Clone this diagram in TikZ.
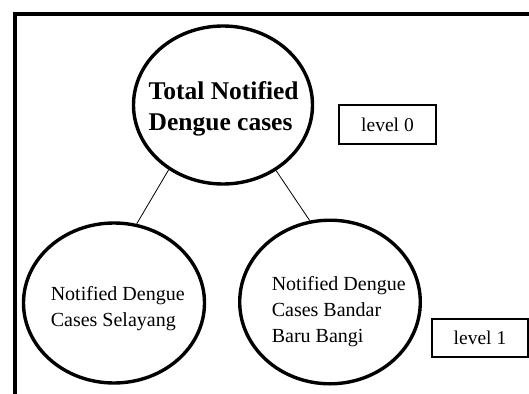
\documentclass[tikz,border=0pt]{standalone}
\usepackage{fontspec}
\setmainfont{Liberation Serif}
\usetikzlibrary{shapes.geometric}
\tikzset{
  bubble/.style={ellipse, draw, line width=3.4pt, inner sep=0pt},
  bubbletext/.style={align=left, inner sep=0pt, anchor=west},
  levelbox/.style={draw, line width=1.3pt, inner sep=0pt, font=\fontsize{19.5}{23}\selectfont},
  link/.style={line width=0.8pt}
}
\begin{document}
\begin{tikzpicture}[x=1pt,y=-1pt]
\useasboundingbox (0,0) rectangle (529,393);
% frame
\draw[line width=4pt] (15,395) -- (15,14) -- (531,14);
% ellipses
\node[bubble, minimum width=179pt, minimum height=158pt] (top) at (223,105) {};
\node[bubble, minimum width=181pt, minimum height=160pt] (left) at (114,303) {};
\node[bubble, minimum width=180.6pt, minimum height=163.6pt] (right) at (330,302) {};
% texts
\node[bubbletext, font=\bfseries\fontsize{25.5}{30.5}\selectfont] (toptext) at (148.5,108.7) {Total Notified\\Dengue cases};
\node[bubbletext, font=\fontsize{20}{26.6}\selectfont] (lefttext) at (50.6,308.6) {Notified Dengue\\Cases Selayang};
\node[bubbletext, font=\fontsize{20}{26.25}\selectfont] (righttext) at (271.6,311.5) {Notified Dengue\\Cases Bandar\\Baru Bangi};
% level boxes
\node[levelbox, minimum width=97pt, minimum height=39pt] (lv0) at (387.5,124.5) {level 0};
\node[levelbox, minimum width=96pt, minimum height=38pt] (lv1) at (480,338) {level 1};
% connectors
\draw[link] (top.230) -- (left.74);
\draw[link] (top.309) -- (right.104.5);
\end{tikzpicture}
\end{document}
